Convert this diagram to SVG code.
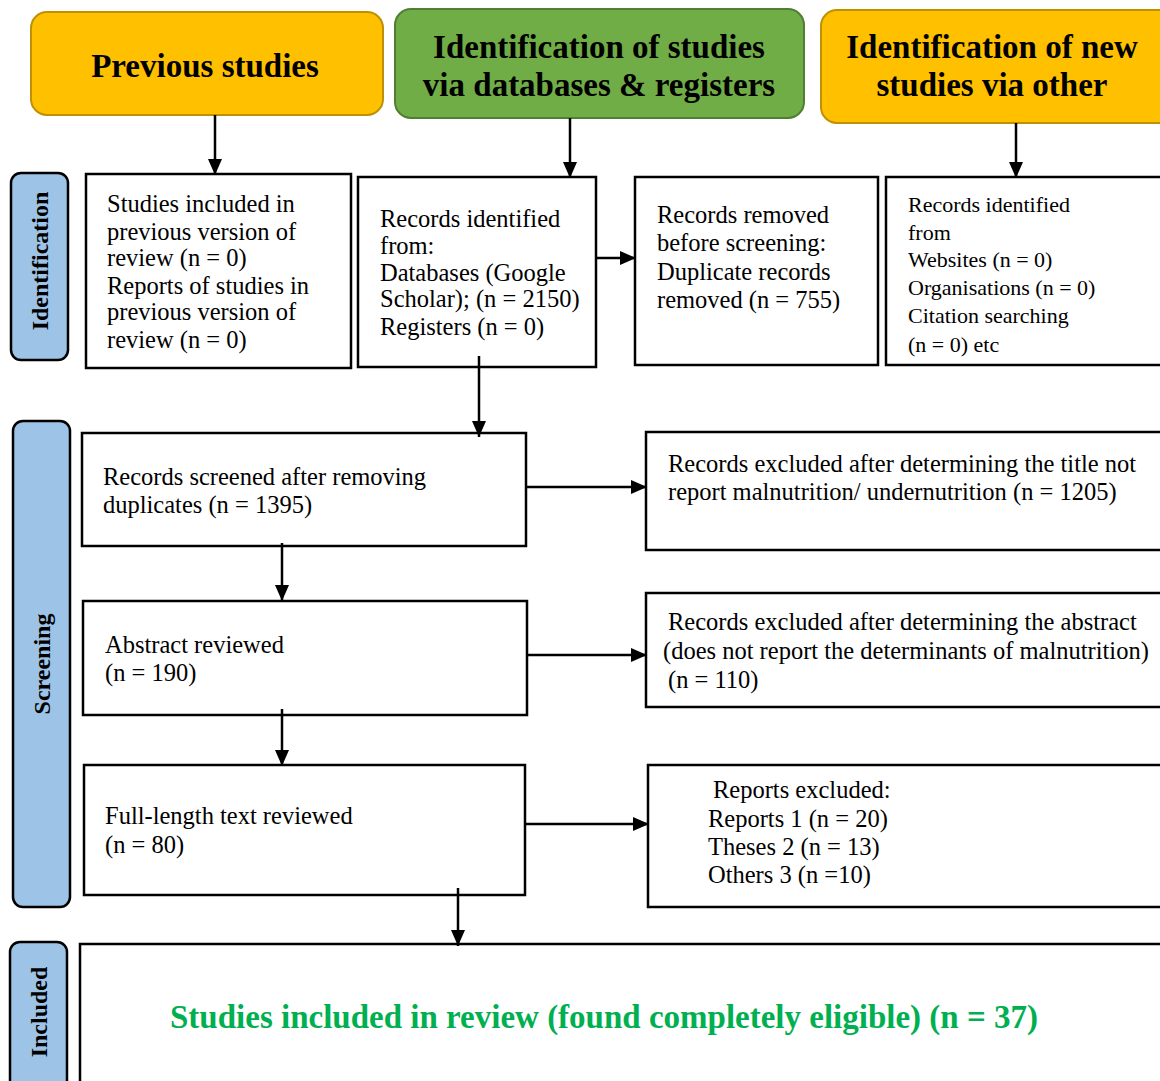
<svg xmlns="http://www.w3.org/2000/svg" width="1160" height="1081" viewBox="0 0 1160 1081">
<style>
.hdrY{fill:#FFC000;stroke:#BF9000;stroke-width:2}
.hdrG{fill:#70AD47;stroke:#507E32;stroke-width:2}
.hdrT{font-family:"Liberation Serif",serif;font-weight:bold;font-size:33px;fill:#000;text-anchor:middle}
.side{fill:#9DC3E6;stroke:#000;stroke-width:2.5}
.sideT{font-family:"Liberation Serif",serif;font-weight:bold;font-size:24px;fill:#000;text-anchor:middle}
.box{fill:#fff;stroke:#000;stroke-width:2.5}
.t{font-family:"Liberation Serif",serif;font-size:24.5px;fill:#000}
.ts{font-family:"Liberation Serif",serif;font-size:22px;fill:#000}
.inc{font-family:"Liberation Serif",serif;font-weight:bold;font-size:33px;fill:#00B050;text-anchor:middle}
.c{stroke:#000;stroke-width:2.5;fill:none;marker-end:url(#ah)}
</style>
<defs>
<marker id="ah" markerUnits="userSpaceOnUse" markerWidth="18" markerHeight="14" refX="16" refY="7" orient="auto">
<path d="M0,0 L16,7 L0,14 Z" fill="#000"/>
</marker>
</defs>
<g id="hdr-previous">
<rect class="hdrY" x="31" y="12" width="352" height="103" rx="16"/>
<text class="hdrT" x="205" y="77">Previous studies</text>
</g>
<g id="hdr-databases">
<rect class="hdrG" x="395" y="9" width="409" height="109" rx="16"/>
<text class="hdrT" x="599" y="58">Identification of studies</text>
<text class="hdrT" x="599" y="96">via databases &amp; registers</text>
</g>
<g id="hdr-other">
<rect class="hdrY" x="821" y="10" width="360" height="113" rx="16"/>
<text class="hdrT" x="992" y="58">Identification of new</text>
<text class="hdrT" x="992" y="96">studies via other</text>
</g>
<g id="lbl-identification">
<rect class="side" x="11" y="173" width="57" height="187" rx="10"/>
<text class="sideT" transform="rotate(-90 48 261)" x="48" y="261">Identification</text>
</g>
<g id="lbl-screening">
<rect class="side" x="13" y="421" width="57" height="486" rx="10"/>
<text class="sideT" transform="rotate(-90 50 664)" x="50" y="664">Screening</text>
</g>
<g id="lbl-included">
<rect class="side" x="10" y="942" width="57" height="150" rx="10"/>
<text class="sideT" transform="rotate(-90 47 1012)" x="47" y="1012">Included</text>
</g>
<g id="box-previous">
<rect class="box" x="86" y="174" width="265" height="194"/>
<text class="t" x="107" y="212">Studies included in</text>
<text class="t" x="107" y="240">previous version of</text>
<text class="t" x="107" y="266">review (n = 0)</text>
<text class="t" x="107" y="294">Reports of studies in</text>
<text class="t" x="107" y="320">previous version of</text>
<text class="t" x="107" y="348">review (n = 0)</text>
</g>
<g id="box-identified">
<rect class="box" x="358" y="177" width="238" height="190"/>
<text class="t" x="380" y="227">Records identified</text>
<text class="t" x="380" y="254">from:</text>
<text class="t" x="380" y="281">Databases (Google</text>
<text class="t" x="380" y="307">Scholar); (n = 2150)</text>
<text class="t" x="380" y="335">Registers (n = 0)</text>
</g>
<g id="box-removed">
<rect class="box" x="635" y="177" width="243" height="188"/>
<text class="t" x="657" y="223">Records removed</text>
<text class="t" x="657" y="251">before screening:</text>
<text class="t" x="657" y="280">Duplicate records</text>
<text class="t" x="657" y="308">removed (n = 755)</text>
</g>
<g id="box-other">
<rect class="box" x="886" y="177" width="290" height="188"/>
<text class="ts" x="908" y="212">Records identified</text>
<text class="ts" x="908" y="240">from</text>
<text class="ts" x="908" y="267">Websites (n = 0)</text>
<text class="ts" x="908" y="295">Organisations (n = 0)</text>
<text class="ts" x="908" y="323">Citation searching</text>
<text class="ts" x="908" y="352">(n = 0) etc</text>
</g>
<g id="box-screened">
<rect class="box" x="82" y="433" width="444" height="113"/>
<text class="t" x="103" y="485">Records screened after removing</text>
<text class="t" x="103" y="513">duplicates (n = 1395)</text>
</g>
<g id="box-excl-title">
<rect class="box" x="646" y="432" width="530" height="118"/>
<text class="t" x="668" y="472">Records excluded after determining the title not</text>
<text class="t" x="668" y="500">report malnutrition/ undernutrition (n = 1205)</text>
</g>
<g id="box-abstract">
<rect class="box" x="83" y="601" width="444" height="114"/>
<text class="t" x="105" y="653">Abstract reviewed</text>
<text class="t" x="105" y="681">(n = 190)</text>
</g>
<g id="box-excl-abstract">
<rect class="box" x="646" y="593" width="530" height="114"/>
<text class="t" x="668" y="630">Records excluded after determining the abstract</text>
<text class="t" x="663" y="659">(does not report the determinants of malnutrition)</text>
<text class="t" x="668" y="688">(n = 110)</text>
</g>
<g id="box-fulltext">
<rect class="box" x="84" y="765" width="441" height="130"/>
<text class="t" x="105" y="824">Full-length text reviewed</text>
<text class="t" x="105" y="853">(n = 80)</text>
</g>
<g id="box-excl-reports">
<rect class="box" x="648" y="765" width="528" height="142"/>
<text class="t" x="713" y="798">Reports excluded:</text>
<text class="t" x="708" y="827">Reports 1 (n = 20)</text>
<text class="t" x="708" y="855">Theses 2 (n = 13)</text>
<text class="t" x="708" y="883">Others 3 (n =10)</text>
</g>
<g id="box-included">
<rect class="box" x="80" y="944" width="1100" height="160"/>
<text class="inc" x="604" y="1028">Studies included in review (found completely eligible) (n = 37)</text>
</g>
<g id="connectors">
<line class="c" x1="215" y1="115" x2="215" y2="175"/>
<line class="c" x1="570" y1="118" x2="570" y2="178"/>
<line class="c" x1="1016" y1="123" x2="1016" y2="178"/>
<line class="c" x1="597" y1="258" x2="636" y2="258"/>
<line class="c" x1="479" y1="356" x2="479" y2="437"/>
<line class="c" x1="526" y1="487" x2="647" y2="487"/>
<line class="c" x1="282" y1="543" x2="282" y2="601"/>
<line class="c" x1="527" y1="655" x2="647" y2="655"/>
<line class="c" x1="282" y1="709" x2="282" y2="766"/>
<line class="c" x1="525" y1="824" x2="649" y2="824"/>
<line class="c" x1="458" y1="888" x2="458" y2="946"/>
</g>
</svg>
